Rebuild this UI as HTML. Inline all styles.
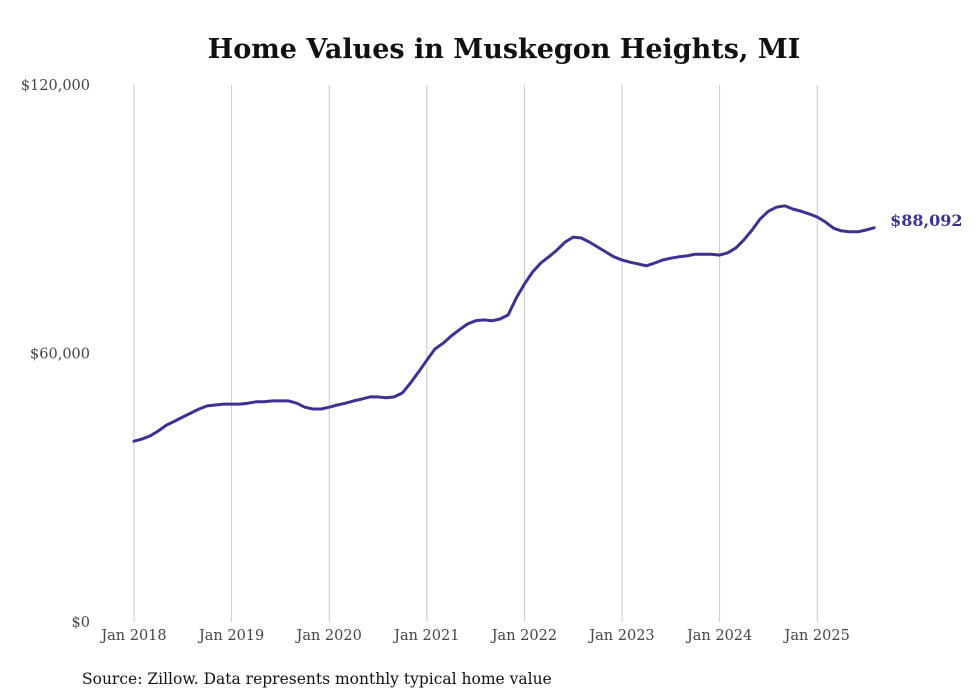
<!DOCTYPE html>
<html><head><meta charset="utf-8"><style>
html,body{margin:0;padding:0;background:#fff;}
svg{display:block;}
</style></head><body>
<svg width="980" height="699" viewBox="0 0 980 699" xmlns="http://www.w3.org/2000/svg">
<text x="504" y="58" text-anchor="middle" font-family="DejaVu Serif, Liberation Serif, serif" font-weight="bold" font-size="27" fill="#111">Home Values in Muskegon Heights, MI</text>
<g id="grid"></g>
<g id="yticks"></g>
<g id="xticks"></g>
<path id="line" fill="none" stroke="#3b3392" stroke-width="3" stroke-linejoin="round" stroke-linecap="round"></path>
<text id="endlabel" font-family="DejaVu Serif, Liberation Serif, serif" font-weight="bold" font-size="16" fill="#3b3392"></text>
<text x="82" y="684" font-family="DejaVu Serif, Liberation Serif, serif" font-size="15.5" fill="#111">Source: Zillow. Data represents monthly typical home value</text>
</svg>
<script>
const years = [2018,2019,2020,2021,2022,2023,2024,2025];
const yTicks = [0,60000,120000];
const yTickLabels = ["$0","$60,000","$120,000"];
const startYear = 2018;
const values = [
40.4,40.9,41.6,42.7,44.0,44.9,45.8,46.7,47.6,48.3,48.5,48.7,
48.7,48.7,48.9,49.2,49.2,49.4,49.4,49.4,48.9,48.0,47.6,47.6,
48.0,48.5,48.9,49.4,49.8,50.3,50.3,50.1,50.3,51.2,53.4,55.9,
58.5,61.0,62.3,63.9,65.3,66.6,67.3,67.5,67.3,67.7,68.6,72.4,
75.5,78.2,80.2,81.6,83.1,84.9,86.0,85.8,84.9,83.8,82.7,81.6,
80.9,80.4,80.0,79.6,80.2,80.9,81.3,81.6,81.8,82.2,82.2,82.2,
82.0,82.5,83.6,85.4,87.6,90.1,91.8,92.7,93.0,92.3,91.8,91.2,
90.5,89.4,88.0,87.4,87.2,87.2,87.6,88.092
];
const NS="http://www.w3.org/2000/svg";
const x0=134, pxPerYear=97.6, yBase=622, yTop=85, yMax=120000;
function xs(monthIndex){return x0+monthIndex*pxPerYear/12;}
function ys(v){return yBase-(v/yMax)*(yBase-yTop);}
const grid=document.getElementById('grid');
const xt=document.getElementById('xticks');
years.forEach(function(yr){
  const x=xs((yr-startYear)*12);
  const l=document.createElementNS(NS,'line');
  l.setAttribute('x1',x);l.setAttribute('x2',x);l.setAttribute('y1',yTop);l.setAttribute('y2',yBase);
  l.setAttribute('stroke','#c8c8c8');l.setAttribute('stroke-width','1');
  
  
  grid.appendChild(l);
  const t=document.createElementNS(NS,'text');
  t.setAttribute('x',x);t.setAttribute('y',640);t.setAttribute('text-anchor','middle');
  t.setAttribute('font-family','DejaVu Serif, Liberation Serif, serif');t.setAttribute('font-size','14.5');t.setAttribute('fill','#444');
  t.textContent='Jan '+yr;
  
  
  xt.appendChild(t);
});
const yt=document.getElementById('yticks');
yTicks.forEach(function(v,i){
  const t=document.createElementNS(NS,'text');
  t.setAttribute('x',90);t.setAttribute('y',ys(v)+5);t.setAttribute('text-anchor','end');
  t.setAttribute('font-family','DejaVu Serif, Liberation Serif, serif');t.setAttribute('font-size','14.5');t.setAttribute('fill','#444');
  t.textContent=yTickLabels[i];
  
  
  yt.appendChild(t);
});
let d='';
values.forEach(function(v,i){d+=(i?'L':'M')+xs(i).toFixed(1)+' '+ys(v*1000).toFixed(1)+' ';});
document.getElementById('line').setAttribute('d',d);
const last=values[values.length-1];
const el=document.getElementById('endlabel');
el.setAttribute('x',xs(values.length-1)+16);
el.setAttribute('y',ys(last*1000)+-2);
el.textContent='$'+Math.round(last*1000).toLocaleString('en-US');
</script>
</body></html>
